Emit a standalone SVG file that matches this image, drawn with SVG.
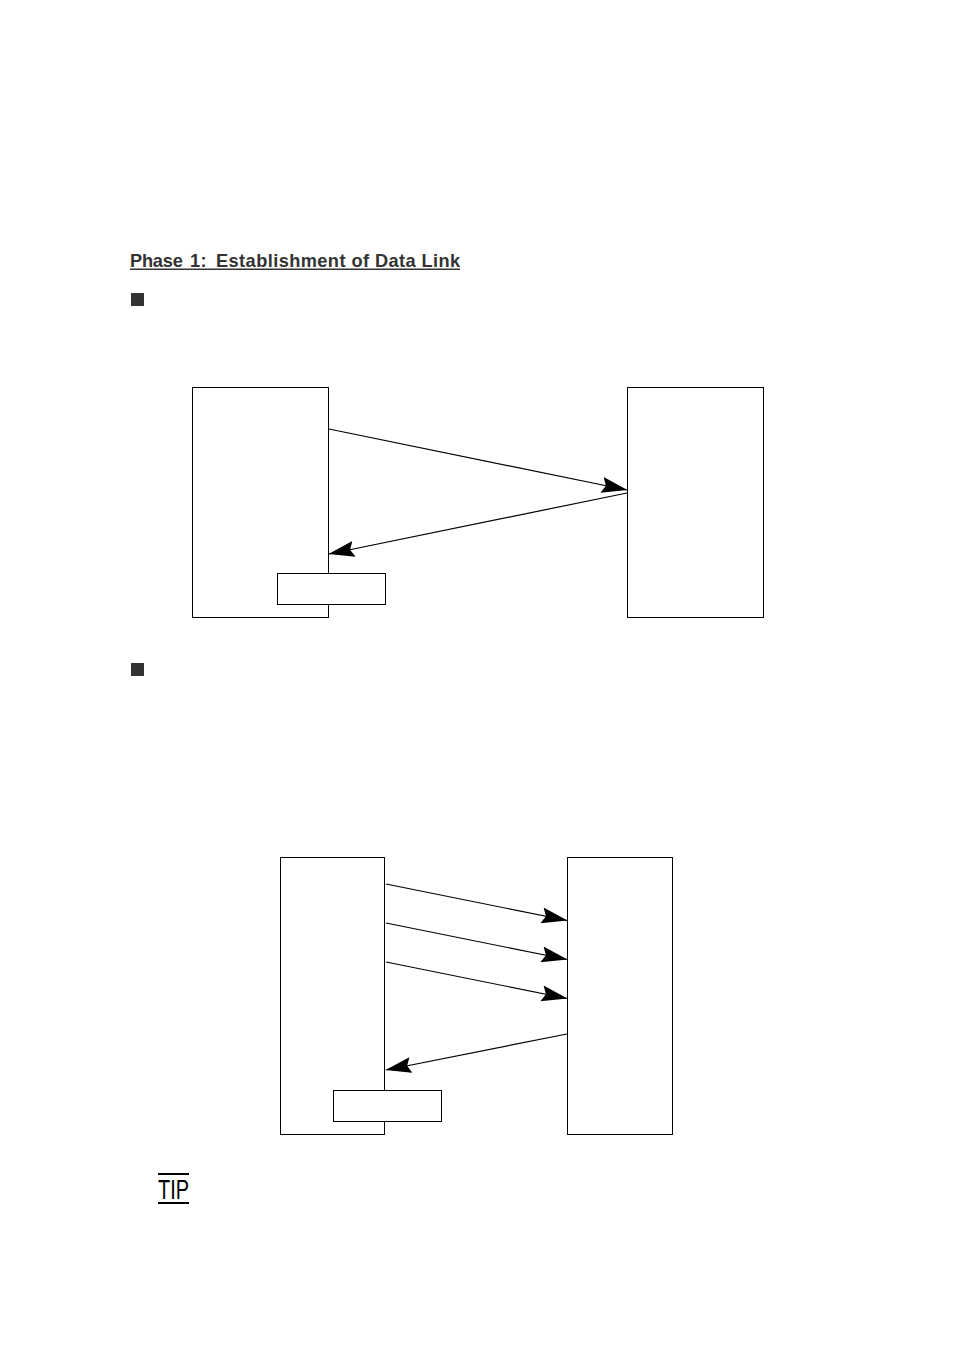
<svg xmlns="http://www.w3.org/2000/svg" width="954" height="1348" viewBox="0 0 954 1348">
  <style>
    .box { fill: #fff; stroke: #000; stroke-width: 1; }
    .conn { fill: none; stroke: #000; stroke-width: 1.2; marker-end: url(#arrow); }
    .title { font-family: "Liberation Sans", Arial, sans-serif; font-weight: bold; font-size: 18.2px; fill: #333; letter-spacing: 0.43px; }
    .tip { font-family: "Liberation Sans", Arial, sans-serif; font-size: 28px; fill: #000; }
  </style>
  <defs>
    <marker id="arrow" markerUnits="userSpaceOnUse" markerWidth="26" markerHeight="17" viewBox="0 0 26 17" refX="25.500" refY="8.500" orient="auto">
      <path d="M0,0.500 L26,8.500 L0,16.500 L4,8.500 Z" fill="#000"/>
    </marker>
  </defs>
  <rect width="954" height="1348" fill="#fff"/>
  <g id="heading">
    <text class="title" y="267"><tspan x="130" style="letter-spacing:-0.2px">Phase</tspan><tspan x="190">1:</tspan><tspan x="216">Establishment of Data Link</tspan></text>
    <rect x="130" y="268.500" width="330" height="1.500" fill="#333"/>
  </g>
  <rect id="bullet-1" x="131" y="293" width="13" height="13" fill="#333"/>
  <rect id="bullet-2" x="131" y="663" width="13" height="13" fill="#333"/>
  <g id="node-a1"><rect class="box" x="192.500" y="387.500" width="136" height="230"/></g>
  <g id="node-a2"><rect class="box" x="627.500" y="387.500" width="136" height="230"/></g>
  <g id="node-a3"><rect class="box" x="277.500" y="573.500" width="108" height="31"/></g>
  <g id="node-b1"><rect class="box" x="280.500" y="857.500" width="104" height="277"/></g>
  <g id="node-b2"><rect class="box" x="567.500" y="857.500" width="105" height="277"/></g>
  <g id="node-b3"><rect class="box" x="333.500" y="1090.500" width="108" height="31"/></g>
  <g id="connectors">
    <line class="conn" x1="329" y1="429" x2="627" y2="490"/>
    <line class="conn" x1="627" y1="493" x2="329" y2="554"/>
    <line class="conn" x1="386" y1="884" x2="567" y2="920.500"/>
    <line class="conn" x1="386" y1="923" x2="567" y2="959.500"/>
    <line class="conn" x1="386" y1="962" x2="567" y2="998.500"/>
    <line class="conn" x1="567" y1="1034" x2="386" y2="1070"/>
  </g>
  <g id="tip">
    <rect x="158" y="1173" width="31" height="2" fill="#000"/>
    <text class="tip" x="158" y="1199" textLength="31" lengthAdjust="spacingAndGlyphs">TIP</text>
    <rect x="158" y="1202" width="31" height="2" fill="#000"/>
  </g>
</svg>
